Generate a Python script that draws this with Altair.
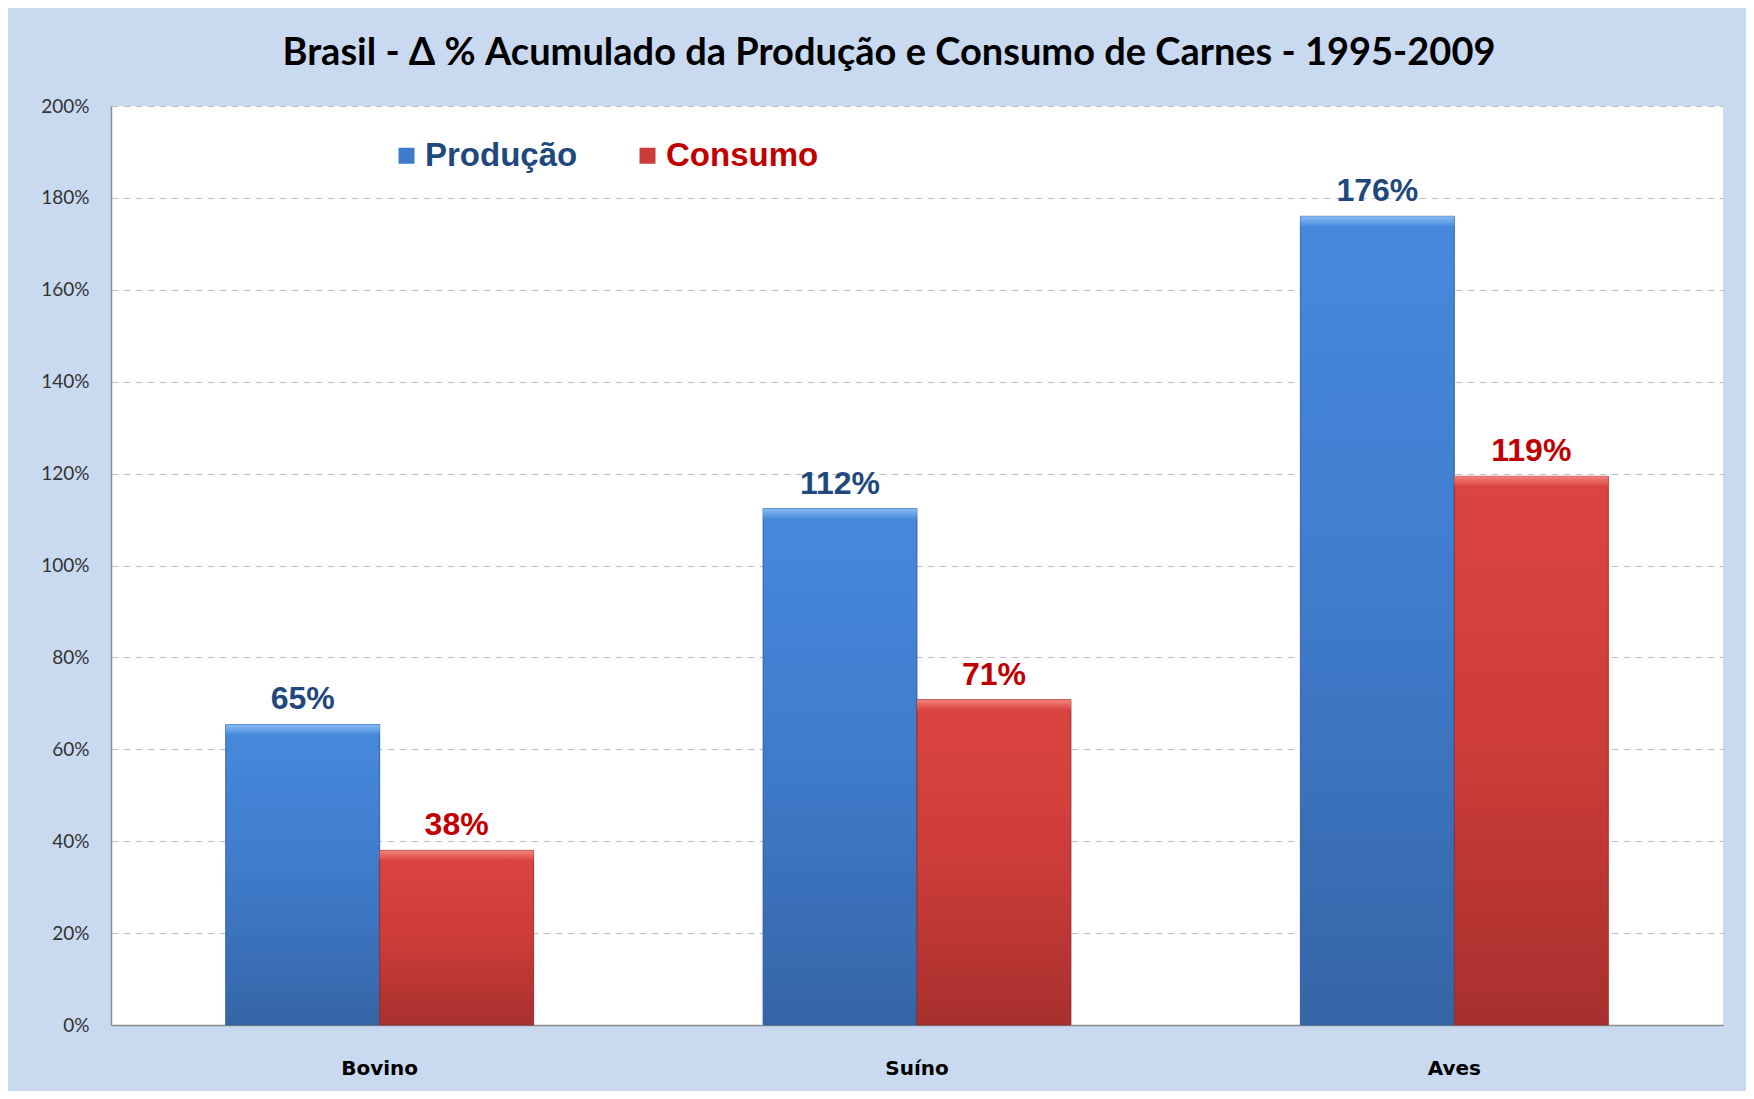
import altair as alt
import pandas as pd

categories = ["Bovino", "Suíno", "Aves"]
series = ["Produção", "Consumo"]
producao = [65.4, 112.4, 176.0]
consumo = [38.0, 70.8, 119.4]

rows = []
for c, p, k in zip(categories, producao, consumo):
    rows.append({"carne": c, "serie": "Produção", "valor": p})
    rows.append({"carne": c, "serie": "Consumo", "valor": k})
df = pd.DataFrame(rows)


def grad(colors):
    n = len(colors) - 1
    return alt.Gradient(gradient="linear", x1=0, y1=0, x2=0, y2=1,
                        stops=[alt.GradientStop(color=c, offset=i / n) for i, c in enumerate(colors)])


blue_grad = grad(["#4689DC", "#3F7BCB", "#3565A6"])
red_grad = grad(["#DC4541", "#CC3C39", "#A8302E"])
blue_bevel = grad(["#86BBF3", "#4A8DDF"])
red_bevel = grad(["#F2837C", "#DC4541"])

x_enc = alt.X("carne:N", sort=categories,
              scale=alt.Scale(domain=categories, paddingInner=0.427, paddingOuter=0.2135),
              axis=alt.Axis(title=None, labelAngle=0, ticks=False, labelPadding=33,
                            labelFont="DejaVu Sans", labelFontWeight="bold", labelFontSize=20,
                            labelColor="#000000", domainColor="#8C8C8C", domainWidth=1.5))
xo_enc = alt.XOffset("serie:N", scale=alt.Scale(domain=series, paddingInner=0, paddingOuter=0))
y_enc = alt.Y("valor:Q", scale=alt.Scale(domain=[0, 200]),
              axis=alt.Axis(values=list(range(0, 201, 20)), labelExpr="datum.value + '%'",
                            title=None, ticks=False, gridDash=[7, 5], gridColor="#C0C0C0",
                            domainColor="#8C8C8C", domainWidth=1.5, labelPadding=22,
                            labelFontSize=19, labelFont="Lato", labelColor="#333333"))

base = alt.Chart(df)

bars = base.mark_bar().encode(
    x=x_enc, xOffset=xo_enc, y=y_enc,
    color=alt.Color("serie:N", scale=alt.Scale(domain=series, range=["#3F7BCB", "#CC3C39"]),
                    legend=alt.Legend(title=None, orient="none", legendX=279, legendY=33,
                                      direction="horizontal", symbolType="square",
                                      symbolSize=256, symbolStrokeWidth=0,
                                      labelFont="Liberation Sans", labelFontSize=33,
                                      labelFontWeight="bold", labelOffset=2,
                                      columnPadding=53, labelLimit=0, padding=0,
                                      labelColor=alt.ExprRef(expr="datum.value == 'Produção' ? '#1F497D' : '#C00000'"))),
)

blue_bars = base.transform_filter(alt.datum.serie == "Produção").mark_bar(
    color=blue_grad, stroke="#2E5A96", strokeWidth=0.8).encode(x=x_enc, xOffset=xo_enc, y=y_enc)
red_bars = base.transform_filter(alt.datum.serie == "Consumo").mark_bar(
    color=red_grad, stroke="#8E2A28", strokeWidth=0.8).encode(x=x_enc, xOffset=xo_enc, y=y_enc)

bevel_base = base.transform_calculate(topo2="datum.valor - 2.2")
blue_top = bevel_base.transform_filter(alt.datum.serie == "Produção").mark_bar(
    color=blue_bevel).encode(x=x_enc, xOffset=xo_enc, y=y_enc, y2="topo2:Q")
red_top = bevel_base.transform_filter(alt.datum.serie == "Consumo").mark_bar(
    color=red_bevel).encode(x=x_enc, xOffset=xo_enc, y=y_enc, y2="topo2:Q")

labels = base.transform_calculate(
    rotulo="format(datum.valor, '.0f') + '%'"
).mark_text(baseline="bottom", dy=-8, font="Liberation Sans", fontSize=32, fontWeight="bold").encode(
    x=x_enc, xOffset=xo_enc, y=y_enc,
    text="rotulo:N",
    fill=alt.Fill("serie:N", scale=alt.Scale(domain=series, range=["#1F497D", "#C00000"]), legend=None),
)

chart = alt.layer(bars, blue_bars, red_bars, blue_top, red_top, labels).properties(
    width=1612, height=919,
    title=alt.Title("Brasil - Δ % Acumulado da Produção e Consumo de Carnes - 1995-2009",
                    font="Lato", fontSize=38, fontWeight="bold", color="#000000",
                    anchor="middle", offset=24, dx=-28),
    background="#C9DAF0",
    padding={"left": 103, "top": 98, "right": 23, "bottom": 66},
    autosize=alt.AutoSizeParams(type="none"),
).configure_view(stroke=None, fill="#FFFFFF")

chart.save("out.html", embed_options={"renderer": "svg", "actions": False})
